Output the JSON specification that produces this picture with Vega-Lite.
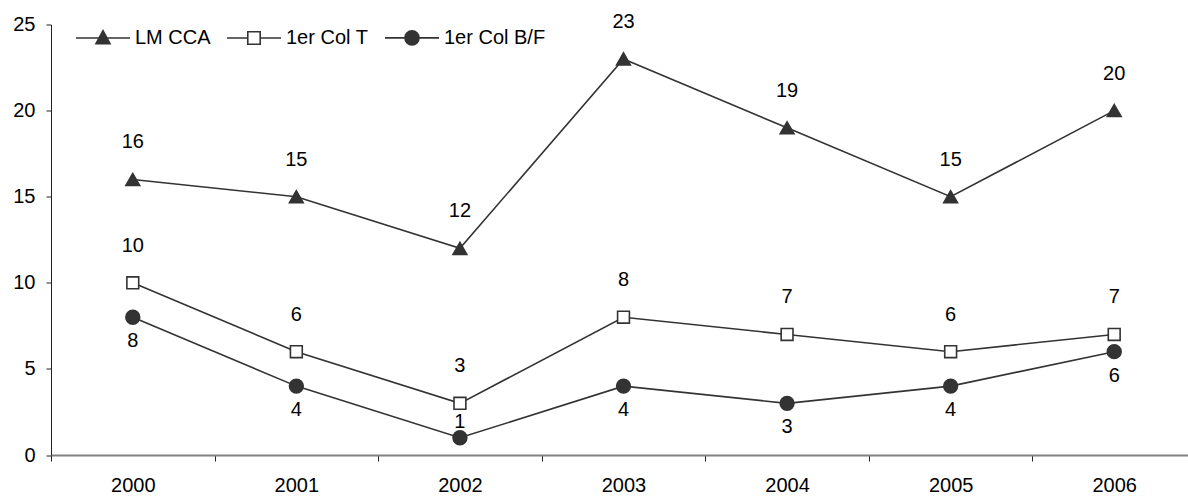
{
  "$schema": "https://vega.github.io/schema/vega-lite/v6.json",
  "autosize": {"type": "none"},
  "width": 1137,
  "height": 430.5,
  "padding": {"left": 51, "top": 24.5, "right": 0, "bottom": 41},
  "background": "white",
  "config": {
    "font": "Liberation Sans",
    "view": {"stroke": null},
    "axis": {"grid": false, "labelFont": "Liberation Sans", "labelFontSize": 20, "labelColor": "black", "titleFontSize": 20}
  },
  "data": {
    "values": [
      {"year": "2000", "series": "LM CCA", "value": 16},
      {"year": "2001", "series": "LM CCA", "value": 15},
      {"year": "2002", "series": "LM CCA", "value": 12},
      {"year": "2003", "series": "LM CCA", "value": 23},
      {"year": "2004", "series": "LM CCA", "value": 19},
      {"year": "2005", "series": "LM CCA", "value": 15},
      {"year": "2006", "series": "LM CCA", "value": 20},
      {"year": "2000", "series": "1er Col T", "value": 10},
      {"year": "2001", "series": "1er Col T", "value": 6},
      {"year": "2002", "series": "1er Col T", "value": 3},
      {"year": "2003", "series": "1er Col T", "value": 8},
      {"year": "2004", "series": "1er Col T", "value": 7},
      {"year": "2005", "series": "1er Col T", "value": 6},
      {"year": "2006", "series": "1er Col T", "value": 7},
      {"year": "2000", "series": "1er Col B/F", "value": 8},
      {"year": "2001", "series": "1er Col B/F", "value": 4},
      {"year": "2002", "series": "1er Col B/F", "value": 1},
      {"year": "2003", "series": "1er Col B/F", "value": 4},
      {"year": "2004", "series": "1er Col B/F", "value": 3},
      {"year": "2005", "series": "1er Col B/F", "value": 4},
      {"year": "2006", "series": "1er Col B/F", "value": 6}
    ]
  },
  "encoding": {
    "x": {
      "field": "year", "type": "ordinal",
      "scale": {"type": "band", "range": [0, 1145], "paddingInner": 0, "paddingOuter": 0},
      "axis": {"title": null, "labelAngle": 0, "tickBand": "extent", "tickSize": 6, "tickColor": "#222", "tickWidth": 1, "domainColor": "#808080", "domainWidth": 2, "labelPadding": 14}
    },
    "y": {
      "field": "value", "type": "quantitative",
      "scale": {"domain": [0, 25], "nice": false, "zero": true},
      "axis": {"title": null, "values": [0, 5, 10, 15, 20, 25], "tickSize": 5, "tickColor": "#222", "domainColor": "#222", "domainWidth": 1, "labelPadding": 11}
    }
  },
  "layer": [
    {
      "mark": {"type": "line", "strokeWidth": 1.6},
      "encoding": {
        "color": {
          "field": "series", "type": "nominal",
          "scale": {"domain": ["LM CCA", "1er Col T", "1er Col B/F"], "range": ["#333333", "#333333", "#333333"]},
          "legend": {
            "title": null,
            "orient": "none",
            "direction": "horizontal",
            "legendX": 24,
            "legendY": -15,
            "padding": 0,
            "symbolSize": 2916,
            "labelFont": "Liberation Sans",
            "labelFontSize": 20,
            "labelColor": "black",
            "labelOffset": 4,
            "columnPadding": 12,
            "encode": {
              "symbols": {
                "update": {
                  "shape": {"signal": "datum.value === 'LM CCA' ? 'M-1,0H1M-0.26,0.21L0.26,0.21L0,-0.27Z' : (datum.value === '1er Col T' ? 'M-1,0H-0.23M0.23,0H1M-0.23,-0.23H0.23V0.23H-0.23Z' : 'M-1,0H1M-0.26,0A0.26,0.26,0,1,1,0.26,0A0.26,0.26,0,1,1,-0.26,0Z')"},
                  "fill": {"signal": "datum.value === '1er Col T' ? 'white' : '#333333'"},
                  "stroke": {"value": "#333333"},
                  "strokeWidth": {"value": 1.6},
                  "size": {"value": 2916},
                  "opacity": {"value": 1}
                }
              }
            }
          }
        }
      }
    },
    {
      "transform": [{"filter": "datum.series === 'LM CCA'"}],
      "mark": {"type": "point", "shape": "triangle-up", "filled": true, "fill": "#333333", "stroke": "#333333", "strokeWidth": 1.6, "opacity": 1, "size": 190}
    },
    {
      "transform": [{"filter": "datum.series === '1er Col T'"}],
      "mark": {"type": "point", "shape": "square", "filled": true, "fill": "white", "stroke": "#333333", "strokeWidth": 1.6, "opacity": 1, "size": 140}
    },
    {
      "transform": [{"filter": "datum.series === '1er Col B/F'"}],
      "mark": {"type": "point", "shape": "circle", "filled": true, "fill": "#333333", "stroke": "#333333", "strokeWidth": 1.6, "opacity": 1, "size": 190}
    },
    {
      "transform": [{"filter": "datum.series !== '1er Col B/F'"}],
      "mark": {"type": "text", "baseline": "middle", "align": "center", "dy": -37, "fontSize": 20, "font": "Liberation Sans", "color": "black"},
      "encoding": {"text": {"field": "value", "type": "quantitative"}}
    },
    {
      "transform": [{"filter": "datum.series === '1er Col B/F' && datum.year !== '2002'"}],
      "mark": {"type": "text", "baseline": "middle", "align": "center", "dy": 24, "fontSize": 20, "font": "Liberation Sans", "color": "black"},
      "encoding": {"text": {"field": "value", "type": "quantitative"}}
    },
    {
      "transform": [{"filter": "datum.series === '1er Col B/F' && datum.year === '2002'"}],
      "mark": {"type": "text", "baseline": "middle", "align": "center", "dy": -16, "fontSize": 20, "font": "Liberation Sans", "color": "black"},
      "encoding": {"text": {"field": "value", "type": "quantitative"}}
    }
  ]
}
